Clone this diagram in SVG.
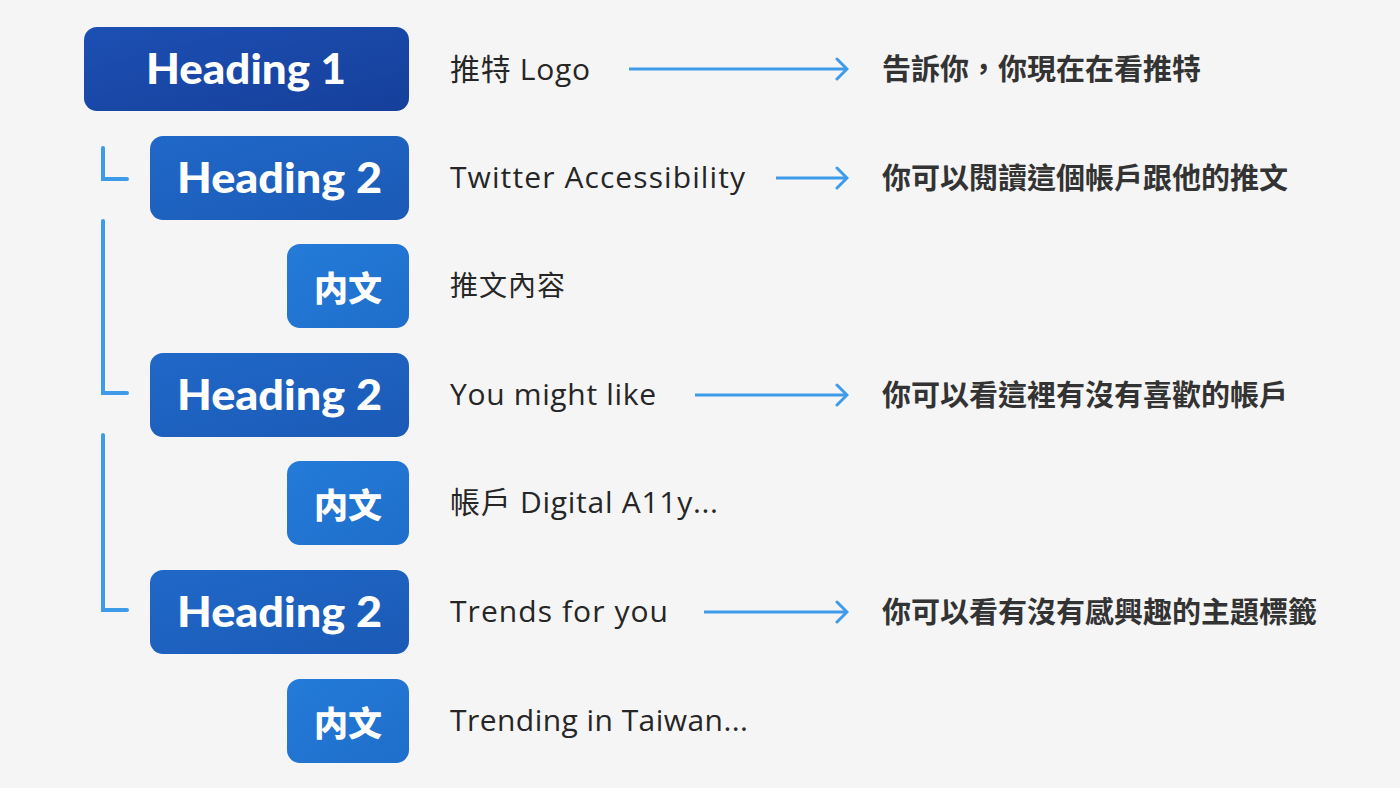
<svg xmlns="http://www.w3.org/2000/svg" width="1400" height="788" viewBox="0 0 1400 788">
  <defs>
    <linearGradient id="g1" x1="0" y1="0" x2="1" y2="1">
      <stop offset="0" stop-color="#1c50b3"/>
      <stop offset="1" stop-color="#163f9b"/>
    </linearGradient>
    <linearGradient id="g2" x1="0" y1="0" x2="1" y2="1">
      <stop offset="0" stop-color="#2068c8"/>
      <stop offset="1" stop-color="#1b5ab6"/>
    </linearGradient>
    <linearGradient id="g3" x1="0" y1="0" x2="1" y2="1">
      <stop offset="0" stop-color="#247bd8"/>
      <stop offset="1" stop-color="#1f6ecb"/>
    </linearGradient>
    <marker id="arrow" viewBox="0 0 14 24" refX="12" refY="12" markerWidth="14" markerHeight="24" markerUnits="userSpaceOnUse" orient="auto">
      <path d="M2,2 L12,12 L2,22" fill="none" stroke="#3d9be9" stroke-width="3" stroke-linecap="round" stroke-linejoin="miter"/>
    </marker>
    <style>
      .h1 { fill: url(#g1); }
      .h2 { fill: url(#g2); }
      .body { fill: url(#g3); }
      .htext { font-family: "Lato", "Liberation Sans", sans-serif; font-weight: 900; font-size: 42px; fill: #ffffff; text-anchor: middle; }
      .btext { font-family: "Noto Sans CJK TC", sans-serif; font-weight: 900; font-size: 34px; fill: #ffffff; text-anchor: middle; }
      .label { font-family: "Open Sans", "Noto Sans CJK TC", sans-serif; font-size: 30px; fill: #262626; }
      .labelcjk { font-family: "Noto Sans CJK TC", sans-serif; font-size: 28px; fill: #262626; }
      .desc { font-family: "Noto Sans CJK TC", sans-serif; font-weight: bold; font-size: 29px; fill: #333333; }
      .tree { fill: none; stroke: #3d9be9; stroke-width: 4; stroke-linecap: round; stroke-linejoin: miter; }
      .arr { fill: none; stroke: #3d9be9; stroke-width: 3; marker-end: url(#arrow); }
    </style>
  </defs>
  <rect x="0" y="0" width="1400" height="788" fill="#f5f5f5"/>

  <g id="connectors">
    <path class="tree" d="M103,148 L103,179 L127,179"/>
    <path class="tree" d="M103,221 L103,393 L127,393"/>
    <path class="tree" d="M103,435 L103,610 L127,610"/>
    <line class="arr" x1="629" y1="69" x2="847" y2="69"/>
    <line class="arr" x1="776" y1="178" x2="847" y2="178"/>
    <line class="arr" x1="695" y1="395" x2="847" y2="395"/>
    <line class="arr" x1="704" y1="612" x2="847" y2="612"/>
  </g>

  <g id="heading1">
    <rect class="h1" x="84" y="27" width="325" height="84" rx="13"/>
    <text class="htext" x="246" y="84" textLength="200" lengthAdjust="spacingAndGlyphs">Heading 1</text>
  </g>
  <g id="heading2-a">
    <rect class="h2" x="150" y="136" width="259" height="84" rx="13"/>
    <text class="htext" x="279.5" y="193" textLength="205" lengthAdjust="spacingAndGlyphs">Heading 2</text>
  </g>
  <g id="body-a">
    <rect class="body" x="287" y="244" width="122" height="84" rx="13"/>
    <text class="btext" x="348" y="301">内文</text>
  </g>
  <g id="heading2-b">
    <rect class="h2" x="150" y="353" width="259" height="84" rx="13"/>
    <text class="htext" x="279.5" y="410" textLength="205" lengthAdjust="spacingAndGlyphs">Heading 2</text>
  </g>
  <g id="body-b">
    <rect class="body" x="287" y="461" width="122" height="84" rx="13"/>
    <text class="btext" x="348" y="518">内文</text>
  </g>
  <g id="heading2-c">
    <rect class="h2" x="150" y="570" width="259" height="84" rx="13"/>
    <text class="htext" x="279.5" y="627" textLength="205" lengthAdjust="spacingAndGlyphs">Heading 2</text>
  </g>
  <g id="body-c">
    <rect class="body" x="287" y="679" width="122" height="84" rx="13"/>
    <text class="btext" x="348" y="736">内文</text>
  </g>

  <g id="labels">
    <text class="label" x="450" y="80" textLength="140" lengthAdjust="spacing">推特 Logo</text>
    <text class="label" x="450" y="188" textLength="295" lengthAdjust="spacing">Twitter Accessibility</text>
    <text class="labelcjk" x="450" y="296" textLength="115" lengthAdjust="spacing">推文內容</text>
    <text class="label" x="450" y="405" textLength="206" lengthAdjust="spacing">You might like</text>
    <text class="label" x="450" y="513" textLength="268" lengthAdjust="spacing">帳戶 Digital A11y...</text>
    <text class="label" x="450" y="622" textLength="218" lengthAdjust="spacing">Trends for you</text>
    <text class="label" x="450" y="731" textLength="298" lengthAdjust="spacing">Trending in Taiwan...</text>
  </g>

  <g id="descriptions">
    <text class="desc" x="882" y="80">告訴你，你現在在看推特</text>
    <text class="desc" x="882" y="189">你可以閱讀這個帳戶跟他的推文</text>
    <text class="desc" x="882" y="406">你可以看這裡有沒有喜歡的帳戶</text>
    <text class="desc" x="882" y="623">你可以看有沒有感興趣的主題標籤</text>
  </g>
</svg>
